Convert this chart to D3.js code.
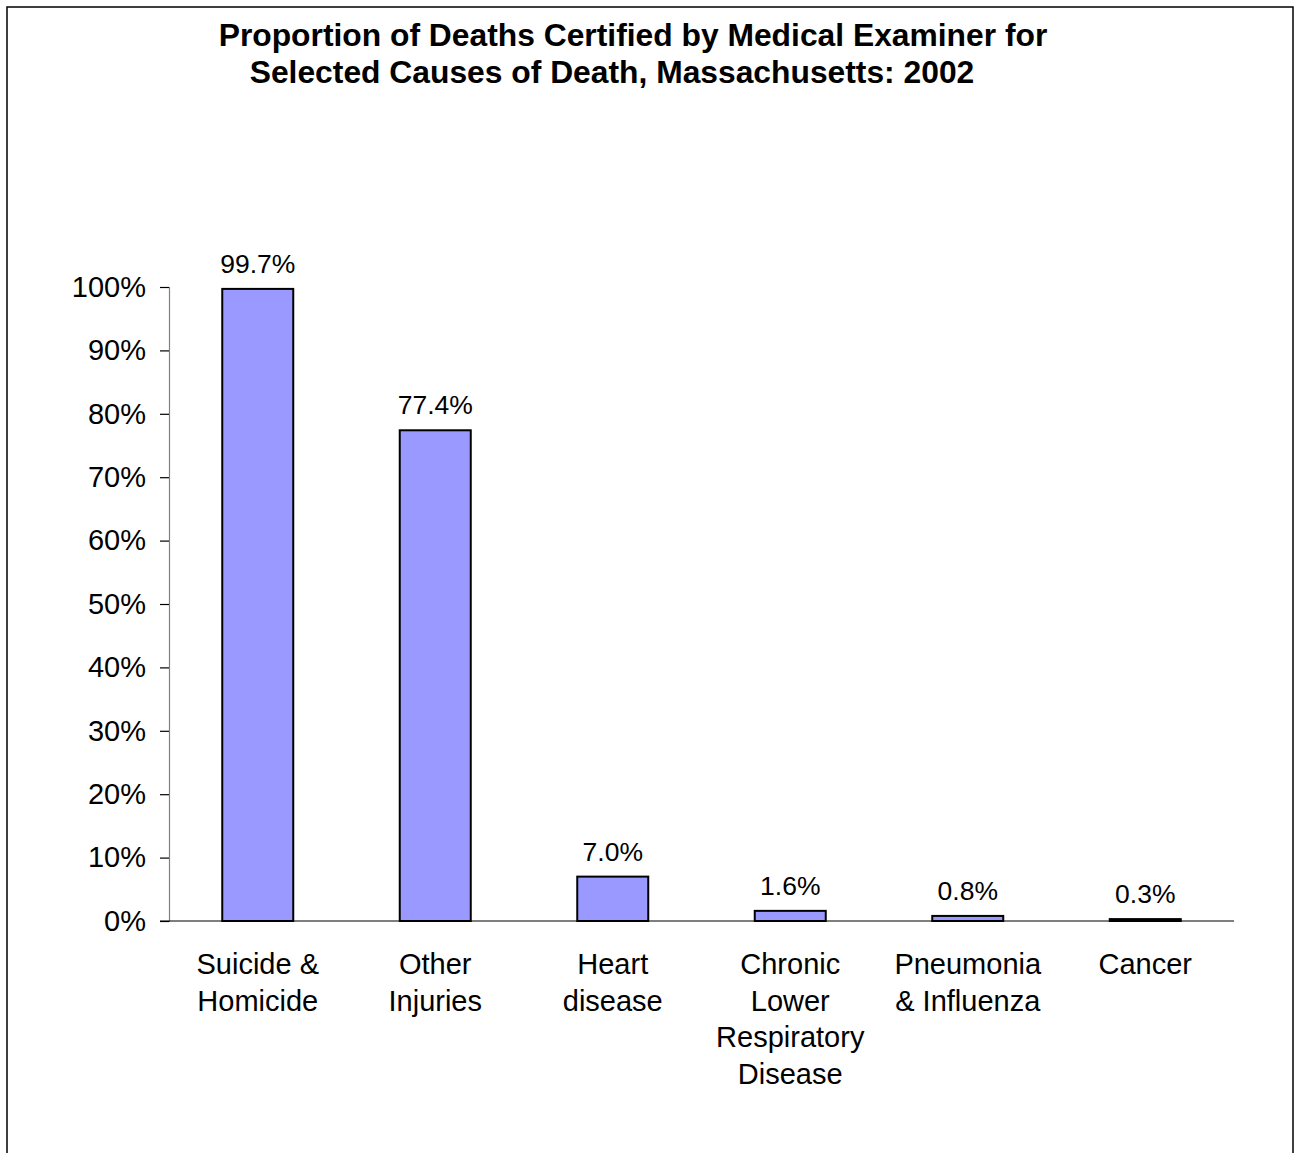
<!DOCTYPE html>
<html><head><meta charset="utf-8">
<script src="https://cdn.jsdelivr.net/npm/d3@7"></script>
<style>body{margin:0;background:#fff}svg{display:block}text{font-family:"Liberation Sans",Arial,sans-serif}</style>
</head><body><svg id="c" width="1298" height="1153"></svg>
<script>
const categories = [["Suicide &","Homicide"],["Other","Injuries"],["Heart","disease"],["Chronic","Lower","Respiratory","Disease"],["Pneumonia","& Influenza"],["Cancer"]];
const values = [99.7, 77.4, 7.0, 1.6, 0.8, 0.3];
const valueLabels = ["99.7%","77.4%","7.0%","1.6%","0.8%","0.3%"];
const yTicks = [0,10,20,30,40,50,60,70,80,90,100];
const titleLines = ["Proportion of Deaths Certified by Medical Examiner for","Selected Causes of Death, Massachusetts: 2002"];

const svg = d3.select("#c");
svg.append("rect").attr("x",7).attr("y",7).attr("width",1286).attr("height",1160).attr("fill","none").attr("stroke","#000").attr("stroke-width",1.5);

const x = d3.scaleBand().domain(d3.range(categories.length)).range([169,1234]).paddingInner(0.6).paddingOuter(0.3);
const y = d3.scaleLinear().domain([0,100]).range([921,287]);

// title
svg.append("text").attr("x",633).attr("y",46).attr("text-anchor","middle").attr("font-weight","bold").attr("font-size",31.8).text(titleLines[0]);
svg.append("text").attr("x",612).attr("y",83).attr("text-anchor","middle").attr("font-weight","bold").attr("font-size",31.8).text(titleLines[1]);

// y axis
const ya = svg.append("g").attr("transform","translate(169,0)").call(d3.axisLeft(y).tickValues(yTicks).tickFormat(d=>d+"%").tickSize(9).tickPadding(14));
ya.select(".domain").attr("stroke","#808080").attr("stroke-width",1.2);
ya.selectAll(".tick line").attr("stroke","#000").attr("stroke-width",1.2);
ya.selectAll(".tick text").attr("font-size",29).attr("fill","#000").attr("font-family","Liberation Sans, Arial, sans-serif");

// bars
svg.append("g").selectAll("rect").data(values).join("rect")
  .attr("x",(d,i)=>x(i)).attr("width",x.bandwidth())
  .attr("y",d=>y(d)).attr("height",d=>y(0)-y(d))
  .attr("fill","#9999FF").attr("stroke","#000").attr("stroke-width",2);

// x axis line
svg.append("line").attr("x1",160).attr("x2",1234).attr("y1",y(0)).attr("y2",y(0)).attr("stroke","#000").attr("stroke-width",1.2);

// value labels
svg.append("g").selectAll("text").data(values).join("text")
  .attr("x",(d,i)=>x(i)+x.bandwidth()/2).attr("y",d=>y(d)-16)
  .attr("text-anchor","middle").attr("font-size",26.5).text((d,i)=>valueLabels[i]);

// category labels
categories.forEach((lines,i)=>{
  const t = svg.append("text").attr("x",x(i)+x.bandwidth()/2).attr("y",974).attr("text-anchor","middle").attr("font-size",29);
  lines.forEach((l,j)=>t.append("tspan").attr("x",x(i)+x.bandwidth()/2).attr("dy",j?36.7:0).text(l));
});
</script></body></html>
